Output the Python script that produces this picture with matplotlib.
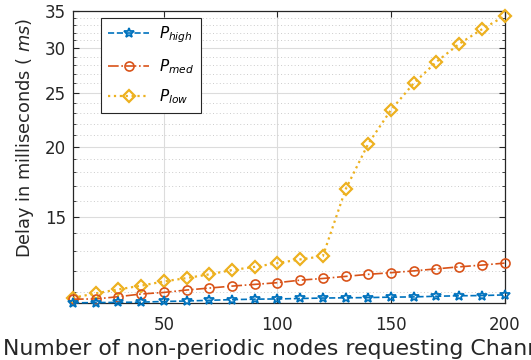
import numpy as np
import matplotlib.pyplot as plt
from matplotlib.ticker import FixedLocator, NullFormatter, NullLocator

plt.rcParams.update({
    "font.family": "DejaVu Sans",
    "mathtext.fontset": "dejavusans",
})

# data
nodes  = [10, 20, 30, 40, 50, 60, 70, 80, 90, 100,
          110, 120, 130, 140, 150, 160, 170, 180, 190, 200]
p_high = [10.52, 10.53, 10.54, 10.55, 10.58, 10.60, 10.63, 10.66, 10.68, 10.69,
          10.71, 10.73, 10.74, 10.75, 10.77, 10.78, 10.81, 10.83, 10.84, 10.87]
p_med  = [10.68, 10.69, 10.79, 10.91, 10.98, 11.09, 11.18, 11.27, 11.35, 11.43,
          11.55, 11.63, 11.73, 11.83, 11.91, 12.00, 12.10, 12.20, 12.29, 12.39]
p_low  = [10.74, 10.94, 11.12, 11.29, 11.49, 11.65, 11.83, 12.04, 12.20, 12.39,
          12.58, 12.75, 16.78, 20.26, 23.28, 25.98, 28.38, 30.56, 32.45, 34.27]

major_y = [15, 20, 25, 30, 35]
minor_y = [11, 12, 13, 14, 16, 17, 18, 19, 21, 22, 23, 24,
           26, 27, 28, 29, 31, 32, 33, 34]
x_ticks = [50, 100, 150, 200]

C_HIGH, C_MED, C_LOW = '#0072BD', '#D95319', '#EDB120'
AX_COL = '#262626'

# axes box in pixels: left 73, right 504.5, top 11, bottom 303.3
fig = plt.figure(figsize=(5.31, 3.6), dpi=100)
ax = fig.add_axes([73/531, 1 - 303.3/360, 431.5/531, 292.3/360])

ax.plot(nodes, p_high, '--', color=C_HIGH, lw=1.2, marker='*', ms=7.5,
        mfc='none', mew=1.3, clip_on=False, label='$P_{high}$', zorder=5)
ax.plot(nodes, p_med, '-.', color=C_MED, lw=1.2, marker='o', ms=6.5,
        mfc='none', mew=1.2, clip_on=False, label='$P_{med}$', zorder=4)
ax.plot(nodes, p_low, ':', color=C_LOW, lw=1.6, marker='D', ms=6,
        mfc='none', mew=1.6, clip_on=False, label='$P_{low}$', zorder=3)

ax.set_yscale('log')
ax.set_xlim(10, 200)
ax.set_ylim(10.5, 35)
ax.yaxis.set_major_locator(FixedLocator(major_y))
ax.yaxis.set_minor_locator(FixedLocator(minor_y))
ax.yaxis.set_minor_formatter(NullFormatter())
ax.set_yticklabels([str(v) for v in major_y])
ax.set_xticks(x_ticks)
ax.xaxis.set_minor_locator(NullLocator())

ax.grid(True, which='major', color='#dcdcdc', lw=0.8)
ax.grid(True, which='minor', axis='y', color='#cccccc', lw=0.7, ls=(0, (1, 2.5)))
ax.set_axisbelow(True)

for s in ax.spines.values():
    s.set_color(AX_COL)
    s.set_linewidth(0.9)
ax.tick_params(which='both', direction='in', top=True, right=True,
               colors=AX_COL, labelcolor=AX_COL, labelsize=12)
ax.tick_params(which='major', length=4)
ax.tick_params(which='minor', length=2.5)
ax.tick_params(axis='x', pad=9)
ax.tick_params(axis='y', pad=5)

# the long x label runs past the right edge, as in the original figure
ax.set_xlabel('Number of non-periodic nodes requesting Channel',
              fontsize=15.8, color=AX_COL, ha='left', va='top')
ax.xaxis.set_label_coords((3 - 73)/431.5, -0.121)
ax.set_ylabel('Delay in milliseconds ( $\\it{ms}$)', fontsize=12.8, color=AX_COL)
ax.yaxis.set_label_coords((36 - 73)/431.5, 0.567)

leg = ax.legend(loc='upper left', bbox_to_anchor=(28/431.5, 1 - 6.7/292.3),
                fontsize=11, frameon=True, fancybox=False, handlelength=2.7,
                borderpad=0.45, labelspacing=0.78, handletextpad=0.65,
                borderaxespad=0)
leg.get_frame().set_edgecolor(AX_COL)
leg.get_frame().set_linewidth(0.8)
leg.get_frame().set_alpha(1)

plt.savefig('out.png', dpi=100)
